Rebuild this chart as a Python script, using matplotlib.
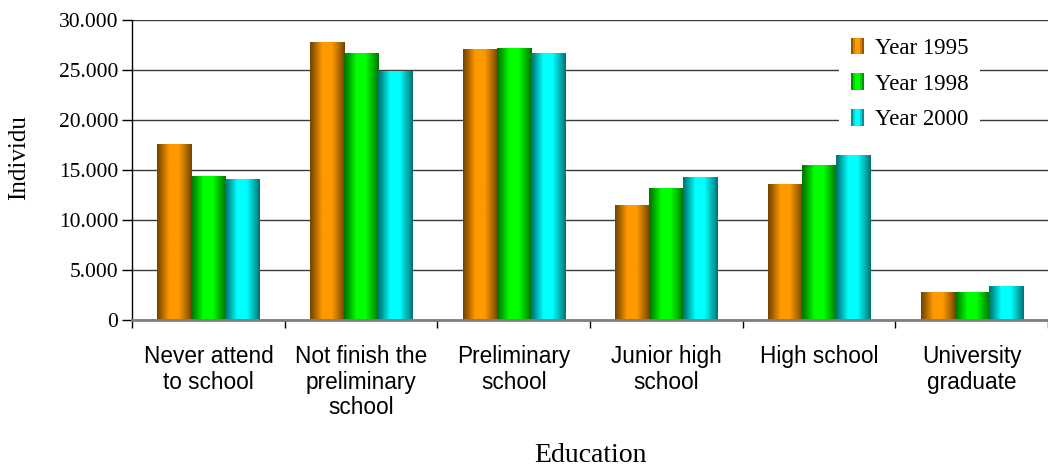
import numpy as np
import matplotlib
matplotlib.use("Agg")
import matplotlib.pyplot as plt
from matplotlib.colors import to_rgb
from matplotlib.patches import Rectangle
from matplotlib.legend_handler import HandlerBase
from matplotlib.ticker import FuncFormatter, FixedLocator

categories = ["Never attend\nto school", "Not finish the\npreliminary\nschool",
              "Preliminary\nschool", "Junior high\nschool", "High school",
              "University\ngraduate"]
series_names = ["Year 1995", "Year 1998", "Year 2000"]
year_1995 = [17600, 27800, 27100, 11500, 13600, 2800]
year_1998 = [14400, 26700, 27200, 13200, 15500, 2800]
year_2000 = [14100, 24900, 26700, 14300, 16500, 3400]
yticks = [0, 5000, 10000, 15000, 20000, 25000, 30000]
colors = ["#FF9900", "#00FF00", "#00FFFF"]

SERIF = ["Liberation Serif", "DejaVu Serif"]
SANS = ["Liberation Sans", "DejaVu Sans"]

# gradient profile across a bar (left -> right)
prof_pos = [0.0, 0.12, 0.35, 0.62, 0.85, 1.0]
prof_fac = [0.45, 0.62, 1.0, 1.0, 0.68, 0.45]


def gradient_img(color, n=64):
    x = np.linspace(0, 1, n)
    f = np.interp(x, prof_pos, prof_fac)
    c = np.array(to_rgb(color))
    img = (f[:, None] * c[None, :])[None, :, :]
    return np.clip(img, 0, 1)


fig = plt.figure(figsize=(10.48, 4.70), dpi=100)
ax = fig.add_axes([0.126, 0.319, 0.874, 0.638])

x = np.arange(len(categories))
w = 0.223
offsets = [-w, 0, w]
all_series = [year_1995, year_1998, year_2000]

for vals, off, col, name in zip(all_series, offsets, colors, series_names):
    bars = ax.bar(x + off, vals, width=w, color=col, label=name, zorder=3,
                  linewidth=0)
    img = gradient_img(col)
    for b in bars:
        bx, by = b.get_x(), b.get_y()
        bw, bh = b.get_width(), b.get_height()
        im = ax.imshow(img, extent=[bx, bx + bw, by, by + bh], aspect="auto",
                       zorder=4, interpolation="bilinear")
        im.set_clip_path(b)

ax.set_xlim(-0.5, len(categories) - 0.5)
ax.set_ylim(0, 30000)
ax.set_aspect("auto")

ax.yaxis.set_major_locator(FixedLocator(yticks))
ax.yaxis.set_major_formatter(FuncFormatter(lambda v, p: f"{int(v):,}".replace(",", ".")))
ax.grid(axis="y", color="#3a3a3a", linewidth=1.0, zorder=1)
ax.set_axisbelow(True)

ax.set_xticks(x)
ax.set_xticklabels(categories, fontfamily=SANS, fontsize=16.3, linespacing=1.15,
                   va="top")
ax.set_xticks(np.arange(len(categories) + 1) - 0.5, minor=True)
ax.tick_params(axis="x", which="major", length=0, pad=18)
ax.tick_params(axis="x", which="minor", length=6, width=1, color="black",
               direction="out")
ax.tick_params(axis="y", length=7, width=1, direction="out", pad=3,
               labelsize=15.5)
for lab in ax.get_yticklabels():
    lab.set_fontfamily(SERIF)

for s in ["top", "right"]:
    ax.spines[s].set_visible(False)
ax.spines["left"].set_color("black")
ax.spines["left"].set_linewidth(1.0)
ax.spines["bottom"].set_color("#7f7f7f")
ax.spines["bottom"].set_linewidth(2.0)
ax.spines["bottom"].set_zorder(5)

ax.set_ylabel("Individu", fontfamily=SERIF, fontsize=18)
ax.yaxis.set_label_coords(-0.111, 0.543)
ax.set_xlabel("Education", fontfamily=SERIF, fontsize=20)
ax.xaxis.set_label_coords(0.5, -0.41)


class GradHandler(HandlerBase):
    def __init__(self, color):
        super().__init__()
        self.color = color

    def create_artists(self, legend, orig_handle, xdescent, ydescent, width,
                       height, fontsize, trans):
        arts = []
        n = 6
        c = np.array(to_rgb(self.color))
        for i in range(n):
            f = np.interp((i + 0.5) / n, prof_pos, prof_fac)
            r = Rectangle((-xdescent + i * width / n, -ydescent), width / n + 0.05,
                          height, facecolor=np.clip(f * c, 0, 1),
                          edgecolor="none", transform=trans)
            arts.append(r)
        return arts


handles, labels = ax.get_legend_handles_labels()
hmap = {h: GradHandler(c) for h, c in zip(handles, colors)}
leg = ax.legend(handles, labels, handler_map=hmap, loc="upper left",
                bbox_to_anchor=(0.772, 0.98), frameon=True, fancybox=False,
                edgecolor="none", facecolor="white", framealpha=1.0,
                prop={"family": SERIF, "size": 16.5}, handlelength=0.6,
                handleheight=0.75, handletextpad=0.45, labelspacing=0.62,
                borderpad=0.5, borderaxespad=0.0)
leg.set_zorder(6)

fig.savefig("out.png", dpi=100)
